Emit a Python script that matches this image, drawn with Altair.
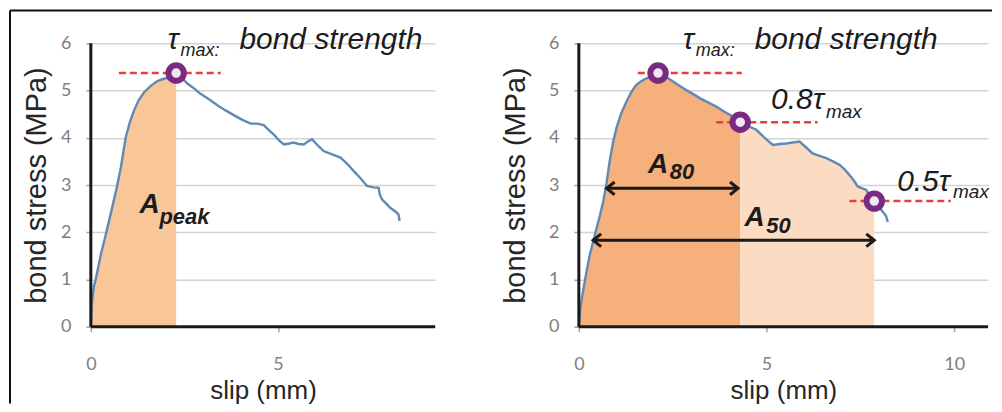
import altair as alt
import pandas as pd

# ---------------- data ----------------
left_slip = [0.0, 0.03, 0.08, 0.13, 0.27, 0.4, 0.53, 0.68, 0.8, 0.93, 1.05, 1.15, 1.28, 1.42,
             1.6, 1.78, 1.95, 2.13, 2.28, 2.42, 2.58, 2.75, 2.93, 3.15, 3.38, 3.6, 3.82, 4.05,
             4.27, 4.45, 4.62, 4.75, 4.89, 5.02, 5.16, 5.3, 5.42, 5.55, 5.69, 5.8, 5.91, 6.05,
             6.22, 6.45, 6.67, 6.85, 7.02, 7.2, 7.38, 7.55, 7.69, 7.72, 7.78, 7.9, 8.0, 8.12,
             8.22, 8.25]
left_stress = [0.0, 0.5, 0.85, 1.0, 1.54, 1.95, 2.39, 2.9, 3.36, 4.0, 4.35, 4.57, 4.8, 4.96,
               5.1, 5.2, 5.25, 5.28, 5.37, 5.28, 5.15, 5.05, 4.93, 4.82, 4.69, 4.58, 4.48, 4.38,
               4.3, 4.3, 4.27, 4.17, 4.07, 3.95, 3.86, 3.88, 3.9, 3.87, 3.86, 3.92, 3.97, 3.85,
               3.72, 3.65, 3.58, 3.45, 3.3, 3.15, 2.98, 2.95, 2.94, 2.8, 2.7, 2.6, 2.52, 2.45,
               2.38, 2.24]

right_slip = [0.0, 0.04, 0.11, 0.2, 0.29, 0.38, 0.47, 0.56, 0.65, 0.74, 0.82, 0.91, 1.0, 1.13,
              1.27, 1.4, 1.53, 1.67, 1.8, 1.95, 2.11, 2.3, 2.51, 2.68, 2.86, 3.04, 3.22, 3.44,
              3.66, 3.88, 4.1, 4.3, 4.5, 4.73, 4.95, 5.17, 5.35, 5.52, 5.7, 5.88, 6.05, 6.23,
              6.41, 6.59, 6.77, 6.94, 7.08, 7.21, 7.32, 7.43, 7.55, 7.65, 7.75, 7.87, 7.98,
              8.09, 8.18, 8.23]
right_stress = [0.0, 0.4, 0.74, 1.15, 1.52, 1.8, 2.08, 2.35, 2.65, 3.05, 3.5, 3.9, 4.2, 4.52,
                4.77, 4.97, 5.12, 5.2, 5.26, 5.3, 5.37, 5.3, 5.19, 5.1, 5.01, 4.93, 4.84, 4.75,
                4.66, 4.55, 4.45, 4.33, 4.25, 4.17, 4.0, 3.85, 3.87, 3.88, 3.9, 3.92, 3.8, 3.67,
                3.62, 3.57, 3.5, 3.43, 3.33, 3.21, 3.1, 2.97, 2.93, 2.9, 2.78, 2.66, 2.55,
                2.44, 2.35, 2.22]

y_ticks = [0, 1, 2, 3, 4, 5, 6]
left_x_ticks = [0, 5]
right_x_ticks = [0, 5, 10]
left_xmax = 9.2
right_xmax = 10.9

# characteristic points (slip, stress)
left_mark_slip = [2.28]
left_mark_stress = [5.37]
right_mark_slip = [2.11, 4.3, 7.87]
right_mark_stress = [5.37, 4.33, 2.66]

# red dashed reference lines
left_dash_from = [0.75]
left_dash_to = [3.47]
right_dash_from = [1.57, 3.66, 7.21]
right_dash_to = [4.34, 6.36, 9.91]

# double arrows (from, to, level)
arrow_from = [0.74, 0.38]
arrow_to = [4.24, 7.87]
arrow_level = [2.93, 1.83]

# ---------------- styling ----------------
FONT = "Liberation Sans"
TICK_FONT = "Lato"
LINE_COLOR = "#6089b4"
FILL_PEAK = "#f9c697"
FILL_80 = "#f5b07b"
FILL_50 = "#fbdcc2"
PURPLE = "#7b2a82"
RED = "#e5413b"
TEXT = "#1c1c1c"


def x_enc(field, xmax, ticks):
    return alt.X(
        field, type="quantitative",
        scale=alt.Scale(domain=[0, xmax], nice=False, zero=False),
        axis=alt.Axis(values=ticks, grid=False, domain=False, ticks=True,
                      tickSize=5, tickColor="#a6a6a6", tickWidth=1.5,
                      labelFont=TICK_FONT, labelFontSize=18, labelColor="#808080",
                      labelPadding=24, labelFlush=False, format="d",
                      title="slip (mm)", titleFont=FONT, titleFontSize=26,
                      titleFontWeight="normal", titleColor="#262626", titlePadding=4),
    )


def y_enc(field, title_pad):
    return alt.Y(
        field, type="quantitative",
        scale=alt.Scale(domain=[0, 6], nice=False, zero=False),
        axis=alt.Axis(values=y_ticks, grid=True, gridColor="#d3d3d3", gridWidth=1.5,
                      domain=False, ticks=True, tickSize=5, tickColor="#a6a6a6",
                      tickWidth=1.5, labelFont=TICK_FONT, labelFontSize=18,
                      labelColor="#808080", labelPadding=15, labelFlush=False,
                      title="bond stress (MPa)", titleFont=FONT, titleFontSize=29,
                      titleFontWeight="normal", titleColor="#262626",
                      titlePadding=title_pad),
    )


def text_layer(x, y, label, size, xmax, ticks, tpad, dx=0, dy=0, bold=False):
    df = pd.DataFrame({"x": [x], "y": [y], "label": [label]})
    return alt.Chart(df).mark_text(
        align="left", baseline="alphabetic", font=FONT, fontSize=size,
        fontStyle="italic", fontWeight="bold" if bold else "normal",
        color=TEXT, dx=dx, dy=dy,
    ).encode(x=x_enc("x", xmax, ticks), y=y_enc("y", tpad), text="label:N")


def panel(slip, stress, xmax, ticks, width, tpad, fills, mark_s, mark_t,
          dash_from, dash_to, extra, frame=False):
    curve = pd.DataFrame({"slip": slip, "stress": stress})
    X = lambda f: x_enc(f, xmax, ticks)
    Y = lambda f: y_enc(f, tpad)
    layers = []
    for lo, hi, col in fills:
        sub = curve[(curve.slip >= lo) & (curve.slip <= hi)]
        layers.append(alt.Chart(sub).mark_area(color=col, opacity=1)
                      .encode(x=X("slip"), y=Y("stress")))
    layers.append(alt.Chart(curve).mark_line(color=LINE_COLOR, strokeWidth=2.4)
                  .encode(x=X("slip"), y=Y("stress"), order="slip:Q"))
    # axis lines in black on top of the fills
    axes_h = pd.DataFrame({"x": [0], "x2": [xmax], "y": [0]})
    axes_v = pd.DataFrame({"x": [0], "y": [0], "y2": [6]})
    layers.append(alt.Chart(axes_h).mark_rule(color="#1a1a1a", strokeWidth=3)
                  .encode(x=X("x"), x2="x2", y=Y("y")))
    layers.append(alt.Chart(axes_v).mark_rule(color="#1a1a1a", strokeWidth=3)
                  .encode(x=X("x"), y=Y("y"), y2="y2"))
    dash = pd.DataFrame({"a": dash_from, "b": dash_to, "y": mark_t})
    layers.append(alt.Chart(dash).mark_rule(color=RED, strokeWidth=2.5, strokeDash=[7, 4])
                  .encode(x=X("a"), x2="b", y=Y("y")))
    layers.extend(extra)
    pts = pd.DataFrame({"slip": mark_s, "stress": mark_t})
    layers.append(alt.Chart(pts).mark_point(shape="circle", filled=True, fill="#f3e6f3",
                                            stroke=PURPLE, strokeWidth=6, size=240,
                                            opacity=1)
                  .encode(x=X("slip"), y=Y("stress")))
    if frame:
        one = pd.DataFrame({"k": [0]})
        layers.append(alt.Chart(one).mark_rule(color="#111111", strokeWidth=2)
                      .encode(x=alt.value(-81), x2=alt.value(903), y=alt.value(-33)))
        layers.append(alt.Chart(one).mark_rule(color="#111111", strokeWidth=2)
                      .encode(x=alt.value(-81), y=alt.value(-33), y2=alt.value(361)))
    return alt.layer(*layers).properties(width=width, height=284)


# ---------------- left panel ----------------
L = dict(xmax=left_xmax, ticks=left_x_ticks, tpad=9)
left_extra = [
    text_layer(2.05, 5.87, "τ", 30, **L),
    text_layer(2.05, 5.87, "max:", 18, dx=13, dy=7, **L),
    text_layer(2.05, 5.87, "bond strength", 30, dx=72, **L),
    text_layer(1.3, 2.41, "A", 28, bold=True, **L),
    text_layer(1.3, 2.41, "peak", 22, dx=20, dy=11, bold=True, **L),
]
left = panel(left_slip, left_stress, left_xmax, left_x_ticks, 345, 9,
             [(0, left_mark_slip[0], FILL_PEAK)], left_mark_slip, left_mark_stress,
             left_dash_from, left_dash_to, left_extra, frame=True)

# ---------------- right panel ----------------
R = dict(xmax=right_xmax, ticks=right_x_ticks, tpad=18)
arrows = pd.DataFrame({"a": arrow_from, "b": arrow_to, "y": arrow_level})
XR = lambda f: x_enc(f, right_xmax, right_x_ticks)
YR = lambda f: y_enc(f, 18)
arrow_layers = [
    alt.Chart(arrows).mark_rule(color="#1a1a1a", strokeWidth=3)
    .encode(x=XR("a"), x2="b", y=YR("y")),
    alt.Chart(arrows).mark_point(shape="M1,-0.8L0,0L1,0.8", filled=False, color="#1a1a1a",
                                 strokeWidth=3, size=256, opacity=1)
    .encode(x=XR("a"), y=YR("y")),
    alt.Chart(arrows).mark_point(shape="M-1,-0.8L0,0L-1,0.8", filled=False, color="#1a1a1a",
                                 strokeWidth=3, size=256, opacity=1)
    .encode(x=XR("b"), y=YR("y")),
]
right_extra = arrow_layers + [
    text_layer(2.77, 5.87, "τ", 30, **R),
    text_layer(2.77, 5.87, "max:", 18, dx=13, dy=7, **R),
    text_layer(2.77, 5.87, "bond strength", 30, dx=72, **R),
    text_layer(5.12, 4.61, "0.8τ", 30, **R),
    text_layer(5.12, 4.61, "max", 19, dx=55, dy=9, **R),
    text_layer(8.48, 2.87, "0.5τ", 30, **R),
    text_layer(8.48, 2.87, "max", 19, dx=56, dy=7, **R),
    text_layer(1.84, 3.25, "A", 28, bold=True, **R),
    text_layer(1.84, 3.25, "80", 22, dx=22, dy=6, bold=True, **R),
    text_layer(4.41, 2.13, "A", 28, bold=True, **R),
    text_layer(4.41, 2.13, "50", 22, dx=22, dy=7, bold=True, **R),
]
right = panel(right_slip, right_stress, right_xmax, right_x_ticks, 410, 18,
              [(0, right_mark_slip[1], FILL_80),
               (right_mark_slip[1], right_mark_slip[2], FILL_50)],
              right_mark_slip, right_mark_stress, right_dash_from, right_dash_to,
              right_extra)

chart = (
    alt.hconcat(left, right, spacing=144, bounds="flush")
    .properties(padding=0, background="white")
    .configure_view(stroke="transparent")
)

chart.save("out.html", embed_options={"renderer": "svg", "actions": False})
